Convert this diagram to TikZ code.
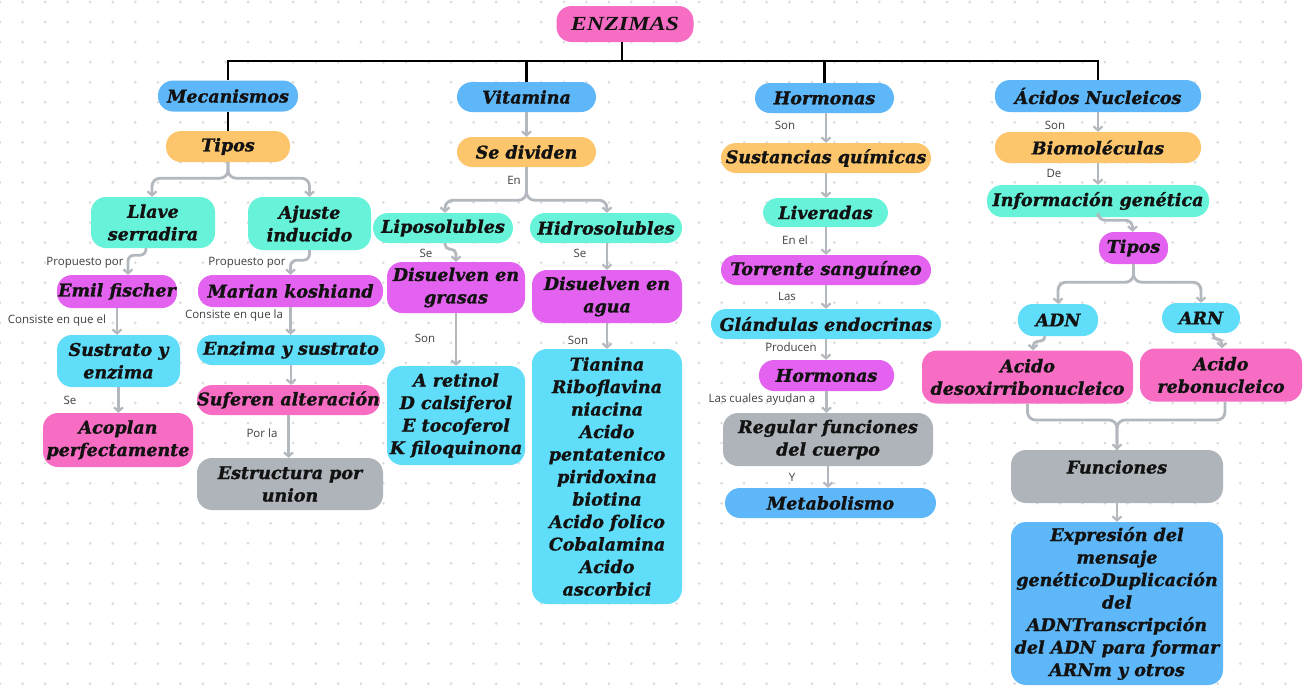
\documentclass[tikz,border=0pt]{standalone}
\usepackage{fontspec}
\usetikzlibrary{arrows.meta}
\newfontfamily\bxfam{DejaVu Serif}[BoldItalicFeatures={FakeBold=1.2}]
\newfontfamily\enfam{Liberation Serif}[FakeStretch=1.2]
\newfontfamily\lbfam{Open Sans}
\newcommand\boxfnt{\bxfam\bfseries\itshape\fontsize{17.5}{22.5}\selectfont}
\newcommand\enzfnt{\enfam\bfseries\itshape\fontsize{20}{22}\selectfont}
\newcommand\labfnt{\lbfam\fontsize{11.5}{13}\selectfont}
\definecolor{cpink}{HTML}{F66DC3}
\definecolor{cviol}{HTML}{E462F0}
\definecolor{cturq}{HTML}{66F3DA}
\definecolor{csky}{HTML}{60DDF8}
\definecolor{cblue}{HTML}{5EB7F8}
\definecolor{corng}{HTML}{FDC66C}
\definecolor{cgray}{HTML}{AEB4BA}
\definecolor{carr}{HTML}{B2B8BE}
\definecolor{cdot}{HTML}{DCDCDC}
\definecolor{clab}{HTML}{404040}
\definecolor{ctxt}{HTML}{121212}
\tikzset{
  bx/.style={rounded corners=15pt, align=center, inner sep=0pt, font=\boxfnt, text=ctxt},
  pinkb/.style={bx, fill=cpink},
  violb/.style={bx, fill=cviol},
  turqb/.style={bx, fill=cturq},
  skyb/.style={bx, fill=csky},
  blueb/.style={bx, fill=cblue},
  orngb/.style={bx, fill=corng},
  grayb/.style={bx, fill=cgray},
  lab/.style={font=\labfnt, text=clab, inner sep=0pt},
  tree/.style={line width=2.7pt, black},
  link/.style={line width=2.8pt, carr, rounded corners=8pt},
  arr/.style={link, -{Straight Barb[length=4pt,width=9pt,line width=2.2pt]}},
}
\begin{document}
\begin{tikzpicture}[x=1pt,y=-1pt]
\fill[white] (0,0) rectangle (1303,686);
\useasboundingbox (0,0) rectangle (1303,686);
\foreach \i in {0,...,58}{\foreach \j in {0,...,34}{\fill[cdot] (\i*22.55,2+\j*20.05) circle[radius=1.5pt];}}

% ---------- nodes ----------
\node[pinkb, minimum width=137pt, minimum height=36pt, font=\enzfnt] (enz) at (625,24) {ENZIMAS};

\node[blueb, minimum width=140pt, minimum height=31pt] (mec) at (228,96) {Mecanismos};
\node[orngb, minimum width=124pt, minimum height=31pt] (tip1) at (228,146.5) {Tipos};
\node[turqb, minimum width=124pt, minimum height=51pt] (llave) at (153,222.5) {Llave\\serradira};
\node[turqb, minimum width=123pt, minimum height=53pt] (ajuste) at (309.5,223.5) {Ajuste\\inducido};
\node[violb, minimum width=120pt, minimum height=33pt] (emil) at (117,291.5) {Emil fischer};
\node[violb, minimum width=185pt, minimum height=32pt] (marian) at (290.5,291) {Marian koshiand};
\node[skyb, minimum width=123pt, minimum height=52pt] (sust) at (118.5,361) {Sustrato y\\enzima};
\node[skyb, minimum width=188pt, minimum height=30pt] (enzs) at (291,350) {Enzima y sustrato};
\node[pinkb, minimum width=150pt, minimum height=54pt] (acop) at (118,440) {Acoplan\\perfectamente};
\node[pinkb, minimum width=183pt, minimum height=30pt] (sufer) at (288.5,400) {Suferen alteración};
\node[grayb, minimum width=186pt, minimum height=52pt] (estr) at (290,484) {Estructura por\\union};

\node[blueb, minimum width=139pt, minimum height=30pt] (vit) at (526.5,97) {Vitamina};
\node[orngb, minimum width=139pt, minimum height=30pt] (sediv) at (526.5,152) {Se dividen};
\node[turqb, minimum width=140pt, minimum height=30pt] (lipo) at (443,228) {Liposolubles};
\node[turqb, minimum width=152pt, minimum height=30pt] (hidro) at (606,228) {Hidrosolubles};
\node[violb, minimum width=138pt, minimum height=51pt] (disg) at (456,287.5) {Disuelven en\\grasas};
\node[violb, minimum width=150pt, minimum height=53pt] (disa) at (607,296.5) {Disuelven en\\agua};
\node[skyb, minimum width=138pt, minimum height=99pt] (aret) at (456,415.5) {A retinol\\D calsiferol\\E tocoferol\\K filoquinona};
\node[skyb, minimum width=150pt, minimum height=255pt] (hlist) at (607,476.5) {Tianina\\Riboflavina\\niacina\\Acido\\pentatenico\\piridoxina\\biotina\\Acido folico\\Cobalamina\\Acido\\ascorbici};

\node[blueb, minimum width=139pt, minimum height=30pt] (horm) at (824.5,98) {Hormonas};
\node[orngb, minimum width=210pt, minimum height=30pt] (sustq) at (826,158) {Sustancias químicas};
\node[turqb, minimum width=125pt, minimum height=29pt] (liver) at (825.5,212.5) {Liveradas};
\node[violb, minimum width=210pt, minimum height=30pt] (torr) at (826,270) {Torrente sanguíneo};
\node[skyb, minimum width=230pt, minimum height=30pt] (gland) at (826,324) {Glándulas endocrinas};
\node[violb, minimum width=135pt, minimum height=31pt] (horm2) at (826.5,375.5) {Hormonas};
\node[grayb, minimum width=210pt, minimum height=53pt] (regul) at (828,439.5) {Regular funciones\\del cuerpo};
\node[blueb, minimum width=211pt, minimum height=30pt] (metab) at (830.5,503) {Metabolismo};

\node[blueb, minimum width=206pt, minimum height=32pt] (acid) at (1098,96) {Ácidos Nucleicos};
\node[orngb, minimum width=206pt, minimum height=31pt] (biom) at (1098,147.5) {Biomoléculas};
\node[turqb, minimum width=222pt, minimum height=32pt] (info) at (1098,201) {Información genética};
\node[violb, minimum width=69pt, minimum height=32pt] (tip2) at (1133.5,248) {Tipos};
\node[skyb, minimum width=80pt, minimum height=32pt] (adn) at (1058,320) {ADN};
\node[skyb, minimum width=78pt, minimum height=30pt] (arn) at (1201,318) {ARN};
\node[pinkb, minimum width=211pt, minimum height=53pt] (adesox) at (1027.5,377) {Acido\\desoxirribonucleico};
\node[pinkb, minimum width=162pt, minimum height=53pt] (arebo) at (1221,375) {Acido\\rebonucleico};
\node[grayb, minimum width=212pt, minimum height=53pt] (func) at (1117,476.5) {Funciones\\[-10pt]\strut};
\node[blueb, minimum width=212pt, minimum height=163pt] (expr) at (1117,603.5) {Expresión del\\mensaje\\genéticoDuplicación\\del\\ADNTranscripción\\del ADN para formar\\ARNm y otros};

% ---------- labels ----------
\node[lab] (l1) at (85,263) {Propuesto por};
\node[lab] (l2) at (247,263) {Propuesto por};
\node[lab] (l3) at (57,321) {Consiste en que el};
\node[lab] (l4) at (234,316) {Consiste en que la};
\node[lab] (l5) at (70,400) {Se};
\node[lab] (l6) at (262,433) {Por la};
\node[lab] (l7) at (514,180) {En};
\node[lab] (l8) at (426,253) {Se};
\node[lab] (l9) at (580,253) {Se};
\node[lab] (l10) at (425,338) {Son};
\node[lab] (l11) at (578,340) {Son};
\node[lab] (l12) at (785,125) {Son};
\node[lab] (l13) at (795,240) {En el};
\node[lab] (l14) at (787,296) {Las};
\node[lab] (l15) at (791,347) {Producen};
\node[lab] (l16) at (762,400) {Las cuales ayudan a};
\node[lab] (l17) at (792,477) {Y};
\node[lab] (l18) at (1055,125) {Son};
\node[lab] (l19) at (1054,173) {De};

% ---------- black tree ----------
\coordinate (busL) at (228,61);
\coordinate (busR) at (1098,61);
\draw[tree] ([xshift=-1.35pt]busL) -- ([xshift=1.35pt]busR);
\draw[tree] ([xshift=-3pt]enz.south) -- ([xshift=-3pt]enz.south |- busL);
\draw[tree] (busL) -- (mec.north);
\draw[tree] (vit.north |- busL) -- (vit.north);
\draw[tree] (horm.north |- busL) -- (horm.north);
\draw[tree] (busR) -- (acid.north);
\draw[tree] (mec.south) -- (tip1.north);

% ---------- gray connectors ----------
\draw[arr] (tip1.south) -- ++(0,16) -| ([xshift=-1pt]llave.north);
\draw[arr] (tip1.south) -- ++(0,16) -| (ajuste.north);
\draw[arr, rounded corners=6pt] ([xshift=-7pt]llave.south) -- ++(0,7) -| ([xshift=11pt]emil.north);
\draw[arr, rounded corners=6pt] (ajuste.south) -- ++(0,10) -| (marian.north);
\draw[arr] (emil.south) -- (emil.south |- sust.north);
\draw[arr] (sust.south) -- (sust.south |- acop.north);
\draw[arr] (marian.south) -- (marian.south |- enzs.north);
\draw[arr] (enzs.south) -- (enzs.south |- sufer.north);
\draw[arr] (sufer.south) -- (sufer.south |- estr.north);

\draw[arr] (vit.south) -- (sediv.north);
\draw[arr] (sediv.south) -- ++(0,33) -| ([xshift=2pt]lipo.north);
\draw[arr] (sediv.south) -- ++(0,33) -| ([xshift=1pt]hidro.north);
\draw[arr, rounded corners=5pt] ([xshift=2pt]lipo.south) -- ++(0,6) -| (disg.north);
\draw[arr] (hidro.south -| disa.north) -- (disa.north);
\draw[arr] (disg.south) -- (aret.north);
\draw[arr] (disa.south) -- (hlist.north);

\draw[arr] (horm.south -| sustq.north) -- (sustq.north);
\draw[arr] (sustq.south) -- (sustq.south |- liver.north);
\draw[arr] (liver.south -| torr.north) -- (torr.north);
\draw[arr] (torr.south) -- (gland.north);
\draw[arr] (gland.south) -- (gland.south |- horm2.north);
\draw[arr] (horm2.south) -- (horm2.south |- regul.north);
\draw[arr] (regul.south) -- (regul.south |- metab.north);

\draw[arr] (acid.south) -- (biom.north);
\draw[arr] (biom.south) -- (info.north);
\draw[arr, rounded corners=7pt] (info.south) -- ++(0,3) -| ([xshift=-1pt]tip2.north);
\draw[arr] (tip2.south) -- ++(0,18) -| (adn.north);
\draw[arr] (tip2.south) -- ++(0,18) -| (arn.north);
\draw[arr, rounded corners=5pt] ([xshift=-13pt]adn.south) -- ++(0,5) -| ([xshift=5.5pt]adesox.north);
\draw[arr, rounded corners=5pt] ([xshift=12pt]arn.south) -- ++(0,6) -| ([xshift=1pt]arebo.north);
\draw[link] (adesox.south) -- (adesox.south |- 0,420) -| (func.north);
\draw[arr] ([xshift=4pt]arebo.south) -- ([xshift=4pt]arebo.south |- 0,420) -| (func.north);
\draw[arr] (func.south) -- (expr.north);
\end{tikzpicture}
\end{document}
